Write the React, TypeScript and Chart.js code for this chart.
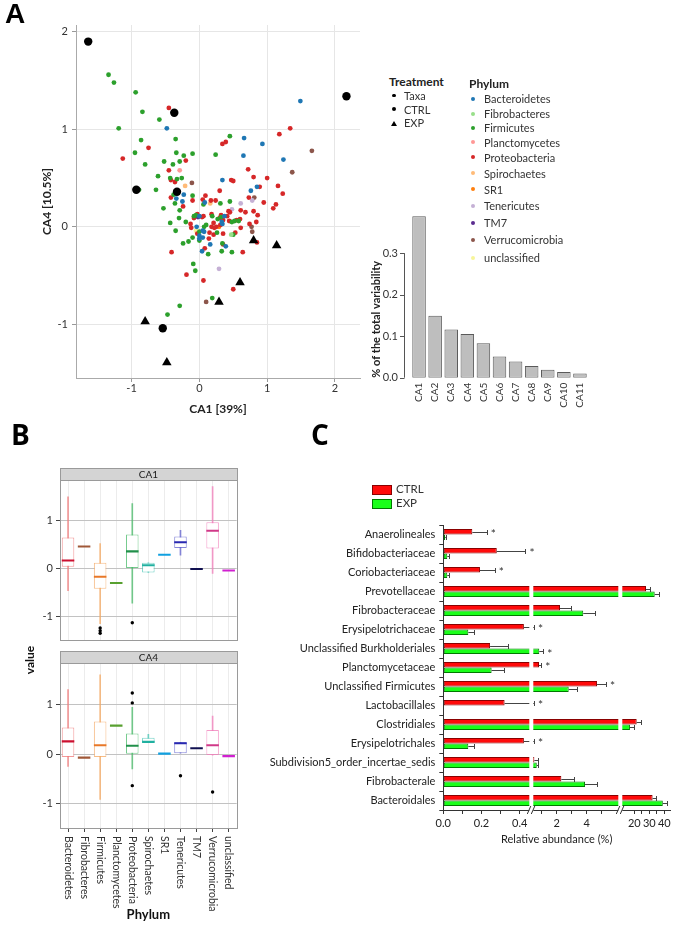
import React, { useEffect, useRef } from "react";
import { Chart, registerables, LinearScale } from "chart.js";

const FONT = "Lato, 'DejaVu Sans', sans-serif";

// ---------------- Panel A : CA biplot ----------------
const phyla = ["Bacteroidetes", "Fibrobacteres", "Firmicutes", "Planctomycetes", "Proteobacteria", "Spirochaetes", "SR1", "Tenericutes", "TM7", "Verrucomicrobia", "unclassified"];
const phylumColors = ["#1f77b4", "#98df8a", "#2ca02c", "#ff9896", "#d62728", "#ffbb78", "#ff7f0e", "#c5b0d5", "#5b2c8f", "#8c564b", "#f7f59a"];

const bacteroidetesPts = [[-0.48, 1.01], [1.49, 1.29], [0.66, 0.91], [0.93, 0.85], [0.65, 0.73], [1.24, 0.69], [0.34, 0.48], [0.85, 0.41], [0.76, 0.37], [-0.23, 0.33], [-0.34, 0.29], [-0.25, 0.26], [0.08, 0.25], [0.0, 0.11], [-0.04, 0.0], [0.05, -0.04], [0.07, -0.05], [0.0, -0.09], [0.05, -0.11], [0.04, -0.25], [0.16, -0.18], [0.34, 0.03], [0.37, 0.11], [0.33, 0.05], [0.0, -0.12], [0.39, -0.2]];
const fibrobacteresPts = [[0.47, -0.08]];
const firmicutesPts = [[-1.34, 1.56], [-1.26, 1.48], [-0.94, 1.38], [-0.84, 1.18], [-0.59, 1.1], [-1.19, 1.01], [0.45, 0.93], [-0.86, 0.89], [-0.35, 0.9], [-0.95, 0.76], [-0.34, 0.76], [-0.1, 0.75], [0.24, 0.74], [-0.23, 0.73], [-0.29, 0.67], [-0.52, 0.67], [-0.8, 0.64], [-0.39, 0.64], [-0.61, 0.52], [-0.43, 0.5], [-0.33, 0.49], [-0.26, 0.5], [-0.89, 0.38], [-0.64, 0.38], [-0.38, 0.33], [-0.1, 0.32], [-0.36, 0.24], [0.31, 0.24], [0.45, 0.26], [-0.53, 0.19], [0.06, 0.23], [-0.29, 0.17], [-0.43, 0.04], [-0.35, -0.04], [-0.3, 0.09], [-0.2, 0.05], [-0.24, -0.17], [-0.16, -0.15], [-0.1, -0.11], [-0.08, 0.11], [-0.05, 0.12], [0.0, -0.05], [0.07, 0.0], [0.1, 0.02], [0.0, -0.14], [0.13, -0.28], [0.19, 0.11], [0.26, -0.06], [0.34, -0.17], [0.33, -0.25], [0.48, 0.05], [0.52, 0.06], [0.5, -0.08], [0.48, -0.26], [-0.09, -0.38], [-0.06, -0.45], [0.19, -0.73], [-0.29, -0.81], [-0.47, -0.9], [0.27, 0.08], [0.32, 0.1], [0.58, 0.06]];
const planctomycetesPts = [[-0.29, 0.58]];
const proteobacteriaPts = [[-0.45, 1.22], [1.34, 1.01], [1.18, 0.95], [0.34, 0.85], [0.39, 0.87], [-0.75, 0.81], [-1.13, 0.7], [-0.2, 0.68], [-0.45, 0.58], [0.72, 0.59], [0.8, 0.51], [1.0, 0.5], [-0.42, 0.48], [-0.36, 0.46], [0.47, 0.48], [0.5, 0.47], [0.89, 0.41], [1.16, 0.42], [0.3, 0.37], [1.23, 0.34], [0.73, 0.3], [0.09, 0.32], [-0.42, 0.3], [-0.1, 0.27], [0.05, 0.28], [0.17, 0.27], [0.24, 0.27], [0.95, 0.25], [1.13, 0.23], [1.09, 0.19], [-0.24, 0.21], [0.43, 0.16], [0.61, 0.17], [0.68, 0.15], [0.8, 0.16], [0.86, 0.12], [-0.03, 0.13], [0.06, 0.11], [-0.13, 0.03], [-0.12, -0.01], [-0.03, -0.07], [0.08, -0.22], [0.15, -0.06], [0.18, 0.0], [0.18, 0.13], [0.21, 0.04], [0.25, 0.0], [0.21, -0.08], [0.3, 0.09], [0.32, 0.12], [0.35, -0.07], [0.35, -0.18], [0.44, 0.06], [0.41, 0.11], [0.53, -0.06], [0.55, 0.07], [0.6, 0.08], [0.61, -0.01], [0.64, -0.26], [0.74, 0.03], [0.84, 0.05], [0.85, -0.16], [-0.41, -0.26], [-0.19, -0.49], [0.06, -0.55], [0.5, -0.64], [-0.08, 0.09], [0.04, 0.1], [0.35, 0.07], [0.14, -0.12], [0.22, -0.01], [0.31, 0.02], [0.45, 0.15]];
const spirochaetesPts = [[-0.21, 0.42], [0.16, 0.24]];
const sr1Pts = [[0.29, 0.0]];
const tenericutesPts = [[0.61, 0.24], [0.78, 0.27], [0.48, 0.18], [0.29, -0.43]];
const tm7Pts = [[-0.02, 0.1]];
const verrucomicrobiaPts = [[1.66, 0.78], [1.37, 0.56], [-0.11, 0.45], [0.81, 0.3], [0.77, 0.0], [0.78, -0.05], [0.1, -0.77]];
const unclassifiedPts = [[-0.05, -0.04]];
const ctrlPts = [[-1.64, 1.9], [-0.37, 1.17], [-0.93, 0.38], [-0.33, 0.36], [-0.54, -1.04], [2.17, 1.34]];
const expPts = [[-0.8, -0.97], [-0.48, -1.39], [0.29, -0.77], [0.6, -0.57], [0.8, -0.14], [1.14, -0.19]];
const phylumPts = [bacteroidetesPts, fibrobacteresPts, firmicutesPts, planctomycetesPts, proteobacteriaPts, spirochaetesPts, sr1Pts, tenericutesPts, tm7Pts, verrucomicrobiaPts, unclassifiedPts];
const biplotTicks = [-1, 0, 1, 2];

// Scree plot
const screeLabels = ["CA1", "CA2", "CA3", "CA4", "CA5", "CA6", "CA7", "CA8", "CA9", "CA10", "CA11"];
const screeValues = [0.389, 0.149, 0.116, 0.105, 0.083, 0.051, 0.039, 0.028, 0.019, 0.014, 0.01];
const screeTicks = [0, 0.1, 0.2, 0.3];

// ---------------- Panel B : boxplots ----------------
const ca1Low = [-0.46, 0.46, -1.15, -0.3, -0.72, -0.08, 0.29, 0.28, -0.01, -0.1, -0.04];
const ca1Q1 = [0.04, 0.46, -0.42, -0.3, 0.0, -0.08, 0.29, 0.43, -0.01, 0.42, -0.04];
const ca1Median = [0.17, 0.46, -0.17, -0.3, 0.36, 0.07, 0.29, 0.55, -0.01, 0.79, -0.04];
const ca1Q3 = [0.65, 0.46, 0.12, -0.3, 0.71, 0.12, 0.29, 0.67, -0.01, 0.97, -0.04];
const ca1High = [1.5, 0.46, 0.52, -0.3, 1.36, 0.12, 0.29, 0.8, -0.01, 1.71, -0.04];
const ca1Outliers = [[2, -1.24], [2, -1.3], [2, -1.35], [4, -1.13]];
const ca4Low = [-0.25, -0.07, -0.92, 0.58, -0.3, 0.23, 0.01, 0.02, 0.12, -0.02, -0.04];
const ca4Q1 = [-0.06, -0.07, -0.06, 0.58, 0.01, 0.23, 0.01, 0.02, 0.12, -0.02, -0.04];
const ca4Median = [0.26, -0.07, 0.18, 0.58, 0.17, 0.25, 0.01, 0.22, 0.12, 0.18, -0.04];
const ca4Q3 = [0.54, -0.07, 0.66, 0.58, 0.42, 0.33, 0.01, 0.24, 0.12, 0.49, -0.04];
const ca4High = [1.31, -0.07, 1.61, 0.58, 0.95, 0.4, 0.01, 0.24, 0.12, 0.77, -0.04];
const ca4Outliers = [[4, 1.24], [4, 1.04], [4, -0.64], [7, -0.44], [9, -0.77]];
const boxTicks = [-1, 0, 1];
const boxColors = ["#f07878", "#b07858", "#f5a860", "#78b848", "#48b868", "#48c4b4", "#30b0e0", "#6060cc", "#303070", "#f07cb8", "#e050e0"];
const medianColors = ["#cc1030", "#a05838", "#e87828", "#58a030", "#20904a", "#20b0a0", "#10a0e0", "#2828b0", "#101050", "#d03888", "#d020d0"];

// ---------------- Panel C : relative abundance ----------------
const cTaxa = ["Anaerolineales", "Bifidobacteriaceae", "Coriobacteriaceae", "Prevotellaceae", "Fibrobacteraceae", "Erysipelotrichaceae", "Unclassified Burkholderiales", "Planctomycetaceae", "Unclassified Firmicutes", "Lactobacillales", "Clostridiales", "Erysipelotrichales", "Subdivision5_order_incertae_sedis", "Fibrobacterale", "Bacteroidales"];
const ctrlMeans = [0.152, 0.28, 0.192, 27.8, 2.22, 0.422, 0.245, 0.82, 4.69, 0.321, 21.6, 0.422, 0.51, 2.31, 32.2];
const ctrlUpper = [0.227, 0.43, 0.269, 30.5, 2.95, 0.49, 0.34, 0.97, 5.29, 0.49, 24.5, 0.48, 0.77, 3.17, 34.5];
const expMeans = [0.01, 0.021, 0.021, 33.6, 3.77, 0.131, 0.84, 0.253, 2.8, 0, 17.1, 0.131, 0.67, 3.89, 39.0];
const expUpper = [0.012, 0.03, 0.03, 36.7, 4.57, 0.16, 1.1, 0.319, 3.37, 0, 19.8, 0.16, 0.75, 4.7, 42.0];
const cSignificant = [true, true, true, false, false, true, true, true, true, true, false, true, false, false, false];
const cTickValues = [0, 0.1, 0.2, 0.3, 0.4, 1, 2, 3, 4, 5, 20, 25, 30, 35, 40];
const cTickLabels = ["0.0", "", "0.2", "", "0.4", "", "2", "", "4", "", "20", "", "30", "", "40"];

// broken axis: three linear segments separated by gaps (display units = px at design width)
const DISP_MAX = 226.7;
const GAPS = [[86, 90], [175, 179]];
function toDisp(v: number) {
  if (v <= 0.45) return 191 * v;
  if (v <= 6.1) return Math.max(90, 83.4 + 15 * v);
  return Math.max(179, 161 + 1.5 * v);
}

class BrokenAxisScale extends LinearScale {
  static id = "brokenAxis";
  static defaults = LinearScale.defaults;
  buildTicks() {
    return cTickValues.map((v) => ({ value: v }));
  }
  getPixelForValue(value: number) {
    return this.left + (toDisp(value) * this.width) / DISP_MAX;
  }
  getValueForPixel(pixel: number) {
    const d = ((pixel - this.left) * DISP_MAX) / this.width;
    if (d <= 86) return d / 191;
    if (d <= 175) return (d - 83.4) / 15;
    return (d - 161) / 1.5;
  }
}

Chart.register(...registerables, BrokenAxisScale);

function ChartCanvas({ left, top, width, height, make }: any) {
  const ref = useRef<HTMLCanvasElement>(null);
  useEffect(() => {
    const chart = new Chart(ref.current as HTMLCanvasElement, make());
    return () => chart.destroy();
  }, []);
  return <canvas ref={ref} width={width} height={height} style={{ position: "absolute", left, top, width, height }} />;
}

const font = (size: number, bold = false) => ({ family: FONT, size, weight: bold ? "bold" : "normal" });

function makeBiplot(): any {
  const toXY = (arr: number[][]) => arr.map(([x, y]) => ({ x, y }));
  return {
    type: "scatter",
    data: {
      datasets: [
        { label: "CTRL", data: toXY(ctrlPts), backgroundColor: "#000", borderWidth: 0, pointRadius: 4.2 },
        { label: "EXP", data: toXY(expPts), backgroundColor: "#000", borderWidth: 0, pointRadius: 5.5, pointStyle: "triangle" },
        ...phyla.map((p, i) => ({ label: p, data: toXY(phylumPts[i]), backgroundColor: phylumColors[i], borderWidth: 0, pointRadius: 2.4 })),
      ],
    },
    options: {
      animation: false,
      responsive: false,
      layout: { padding: { left: 36, top: 25, right: 10, bottom: 0 } },
      plugins: { legend: { display: false }, tooltip: { enabled: false } },
      scales: {
        x: {
          type: "linear", min: -1.82, max: 2.37,
          afterBuildTicks: (s: any) => { s.ticks = biplotTicks.map((v) => ({ value: v })); },
          afterFit: (s: any) => { s.height = 42; },
          grid: { color: "#e6e6e6", tickLength: 4, tickColor: "#999" },
          border: { color: "#aaa" },
          ticks: { color: "#333", font: font(11), padding: 0 },
          title: { display: true, text: "CA1 [39%]", color: "#222", font: font(12, true) },
        },
        y: {
          type: "linear", min: -1.55, max: 2.07,
          afterBuildTicks: (s: any) => { s.ticks = biplotTicks.map((v) => ({ value: v })); },
          afterFit: (s: any) => { s.width = 40; },
          grid: { color: "#e6e6e6", tickLength: 4, tickColor: "#999" },
          border: { color: "#aaa" },
          ticks: { color: "#333", font: font(11), padding: 4 },
          title: { display: true, text: "CA4 [10.5%]", color: "#222", font: font(12, true) },
        },
      },
    },
  };
}

const screeAxisPlugin = {
  id: "screeAxis",
  afterDraw(chart: any) {
    const { ctx, chartArea } = chart;
    const y = chart.scales.y;
    const x0 = chartArea.left - 7;
    ctx.save();
    ctx.strokeStyle = "#555";
    ctx.lineWidth = 1;
    ctx.beginPath();
    ctx.moveTo(x0 + 0.5, y.getPixelForValue(0));
    ctx.lineTo(x0 + 0.5, y.getPixelForValue(0.3));
    screeTicks.forEach((t) => {
      const py = Math.round(y.getPixelForValue(t)) + 0.5;
      ctx.moveTo(x0 + 0.5, py);
      ctx.lineTo(x0 - 4, py);
    });
    ctx.stroke();
    ctx.restore();
  },
};

function makeScree(): any {
  return {
    type: "bar",
    data: {
      labels: screeLabels,
      datasets: [{ data: screeValues, backgroundColor: "#bebebe", borderColor: "#5a5a5a", borderWidth: 1, borderSkipped: false, categoryPercentage: 0.84, barPercentage: 1 }],
    },
    options: {
      animation: false,
      responsive: false,
      layout: { padding: { left: 26, top: 19, right: 12, bottom: 0 } },
      plugins: { legend: { display: false }, tooltip: { enabled: false } },
      scales: {
        x: {
          type: "category",
          grid: { display: false, drawTicks: false },
          border: { display: false },
          ticks: { autoSkip: false, minRotation: 90, maxRotation: 90, padding: 5, color: "#333", font: font(10) },
          afterFit: (s: any) => { s.height = 52.3; },
        },
        y: {
          type: "linear", min: 0, max: 0.405,
          grid: { display: false, drawTicks: false },
          border: { display: false },
          afterBuildTicks: (s: any) => { s.ticks = screeTicks.map((v) => ({ value: v })); },
          ticks: { callback: (v: any) => Number(v).toFixed(1), padding: 13, color: "#333", font: font(11) },
          afterFit: (s: any) => { s.width = 45; },
          title: { display: true, text: "% of the total variability", align: "start", color: "#222", font: font(11, true) },
        },
      },
    },
    plugins: [screeAxisPlugin],
  };
}

function facetPlugin(facet: string, bottom: boolean) {
  return {
    id: "facet" + facet,
    afterDraw(chart: any) {
      const { ctx, chartArea } = chart;
      const { left, right, top, bottom: b } = chartArea;
      ctx.save();
      ctx.lineWidth = 1;
      ctx.strokeStyle = "#9a9a9a";
      ctx.strokeRect(Math.round(left) + 0.5, Math.round(top) + 0.5, Math.round(right - left), Math.round(b - top));
      ctx.fillStyle = "#d4d4d4";
      ctx.fillRect(Math.round(left) + 0.5, Math.round(top) - 11.5, Math.round(right - left), 12);
      ctx.strokeRect(Math.round(left) + 0.5, Math.round(top) - 11.5, Math.round(right - left), 12);
      ctx.fillStyle = "#1a1a1a";
      ctx.font = `10px ${FONT}`;
      ctx.textAlign = "center";
      ctx.textBaseline = "middle";
      ctx.fillText(facet, (left + right) / 2, top - 5.5);
      if (bottom) {
        const xs = chart.scales.x;
        ctx.fillStyle = "#333";
        ctx.font = `10.5px ${FONT}`;
        ctx.textAlign = "left";
        phyla.forEach((p, i) => {
          ctx.save();
          ctx.translate(xs.getPixelForValue(i), b + 8);
          ctx.rotate(Math.PI / 2);
          ctx.fillText(p, 0, 0);
          ctx.restore();
        });
      }
      ctx.restore();
    },
  };
}

function makeBox(facet: string, low: number[], q1: number[], med: number[], q3: number[], high: number[], outl: number[][], bottom: boolean): any {
  const stroke = boxColors.map((c) => c + "c0");
  return {
    type: "bar",
    data: {
      labels: phyla,
      datasets: [
        { type: "scatter", label: "outliers", data: outl.map(([i, v]) => ({ x: phyla[i], y: v })), backgroundColor: "#000", borderWidth: 0, pointRadius: 1.7 },
        { type: "bar", label: "median", data: med.map((m) => [m - 0.022, m + 0.022]), backgroundColor: medianColors, borderWidth: 0, grouped: false, categoryPercentage: 0.78, barPercentage: 1 },
        { type: "bar", label: "box", data: q1.map((v, i) => [v, q3[i]]), backgroundColor: "#ffffff", borderColor: stroke, borderWidth: 1, borderSkipped: false, grouped: false, categoryPercentage: 0.78, barPercentage: 1 },
        { type: "bar", label: "whisker", data: low.map((v, i) => [v, high[i]]), backgroundColor: stroke, borderWidth: 0, grouped: false, barThickness: 1 },
      ],
    },
    options: {
      animation: false,
      responsive: false,
      layout: { padding: { left: 0, top: bottom ? 14 : 18, right: 8.3, bottom: bottom ? 0 : 4 } },
      plugins: { legend: { display: false }, tooltip: { enabled: false } },
      scales: {
        x: {
          type: "category",
          offset: true,
          grid: { offset: false, color: "#ececec", drawTicks: bottom, tickLength: 4, tickColor: "#444" },
          border: { display: false },
          ticks: { display: false },
          afterFit: (s: any) => { s.height = bottom ? 98 : 0; },
          title: { display: bottom, text: "Phylum", color: "#111", font: font(13, true), padding: { top: 0, bottom: 3 } },
        },
        y: {
          type: "linear", min: -1.5, max: 1.85,
          afterBuildTicks: (s: any) => { s.ticks = boxTicks.map((v) => ({ value: v })); },
          afterFit: (s: any) => { s.width = 60; },
          grid: { color: "#c2c2c2", tickLength: 4, tickColor: "#444" },
          border: { display: false },
          ticks: { color: "#333", font: font(11), padding: 3 },
        },
      },
    },
    plugins: [facetPlugin(facet, bottom)],
  };
}

const abundancePlugin = {
  id: "abundanceExtras",
  afterDatasetsDraw(chart: any) {
    const { ctx } = chart;
    const xs = chart.scales.x;
    const metas = [chart.getDatasetMeta(0), chart.getDatasetMeta(1)];
    const means = [ctrlMeans, expMeans];
    const uppers = [ctrlUpper, expUpper];
    ctx.save();
    ctx.strokeStyle = "#444";
    ctx.lineWidth = 1;
    metas.forEach((m, d) => {
      m.data.forEach((bar: any, i: number) => {
        if (uppers[d][i] <= means[d][i]) return;
        const x0 = xs.getPixelForValue(means[d][i]);
        const x1 = Math.round(xs.getPixelForValue(uppers[d][i])) + 0.5;
        const y = Math.round(bar.y) + 0.5;
        ctx.beginPath();
        ctx.moveTo(x0, y);
        ctx.lineTo(x1, y);
        ctx.moveTo(x1, y - 2.5);
        ctx.lineTo(x1, y + 2.5);
        ctx.stroke();
      });
    });
    ctx.restore();
  },
  afterDraw(chart: any) {
    const { ctx, chartArea } = chart;
    const xs = chart.scales.x;
    const k = (chartArea.right - chartArea.left) / DISP_MAX;
    ctx.save();
    GAPS.forEach(([g0, g1]) => {
      const p0 = chartArea.left + g0 * k;
      const p1 = chartArea.left + g1 * k;
      ctx.fillStyle = "#fff";
      ctx.fillRect(p0, chartArea.top, p1 - p0, chartArea.bottom - chartArea.top + 1.5);
      ctx.strokeStyle = "#333";
      ctx.lineWidth = 1;
      ctx.beginPath();
      [p0, p1].forEach((p) => {
        ctx.moveTo(p - 2, chartArea.bottom + 4);
        ctx.lineTo(p + 1.5, chartArea.bottom - 4);
      });
      ctx.stroke();
    });
    const metas = [chart.getDatasetMeta(0), chart.getDatasetMeta(1)];
    ctx.fillStyle = "#333";
    ctx.font = `12px ${FONT}`;
    ctx.textAlign = "left";
    ctx.textBaseline = "middle";
    cSignificant.forEach((s, i) => {
      if (!s) return;
      const useExp = expUpper[i] > ctrlUpper[i];
      const up = useExp ? expUpper[i] : ctrlUpper[i];
      const bar = metas[useExp ? 1 : 0].data[i];
      ctx.fillText("*", xs.getPixelForValue(up) + 4, bar.y + 2.5);
    });
    ctx.restore();
  },
};

function makeAbundance(): any {
  return {
    type: "bar",
    data: {
      labels: cTaxa,
      datasets: [
        { label: "CTRL", data: ctrlMeans, backgroundColor: "#ff0a0a", borderColor: "#8a0000", borderWidth: 1, borderSkipped: false, categoryPercentage: 0.6, barPercentage: 0.96 },
        { label: "EXP", data: expMeans, backgroundColor: "#1aff1a", borderColor: "#007a00", borderWidth: 1, borderSkipped: false, categoryPercentage: 0.6, barPercentage: 0.96 },
      ],
    },
    options: {
      indexAxis: "y",
      animation: false,
      responsive: false,
      layout: { padding: { left: 0, top: 55, right: 10, bottom: 0 } },
      plugins: { legend: { display: false }, tooltip: { enabled: false } },
      scales: {
        x: {
          type: "brokenAxis", min: 0, max: 45,
          grid: { drawOnChartArea: false, tickLength: 4, tickColor: "#333" },
          border: { color: "#333" },
          ticks: { autoSkip: false, maxRotation: 0, callback: (_v: any, i: number) => cTickLabels[i], color: "#222", font: font(11), padding: 3 },
          afterFit: (s: any) => { s.height = 40; },
          title: { display: true, text: "Relative abundance (%)", color: "#222", font: font(11), padding: { top: 0, bottom: 4 } },
        },
        y: {
          type: "category",
          grid: { offset: true, drawOnChartArea: false, tickLength: 4, tickColor: "#333" },
          border: { color: "#333" },
          ticks: { autoSkip: false, color: "#222", font: font(11), padding: 4 },
          afterFit: (s: any) => { s.width = 183.3; },
        },
      },
    },
    plugins: [abundancePlugin],
  };
}

function Txt({ x, cy, size = 11, bold = false, color = "#333", children }: any) {
  return (
    <div style={{ position: "absolute", left: x, top: cy - size * 0.7, fontSize: size, lineHeight: `${size * 1.4}px`, fontWeight: bold ? 700 : 400, color, whiteSpace: "nowrap" }}>
      {children}
    </div>
  );
}

function Dot({ x, y, r, color }: any) {
  return <div style={{ position: "absolute", left: x - r, top: y - r, width: 2 * r, height: 2 * r, borderRadius: "50%", background: color }} />;
}

const phylumLegendY = [99, 113.7, 127.7, 142.3, 157.3, 173.3, 189.3, 205.7, 222.5, 239.5, 257.5];

export default function App() {
  return (
    <div style={{ position: "absolute", left: 0, top: 0, width: 680, height: 926, background: "#fff", fontFamily: FONT, overflow: "hidden" }}>
      <ChartCanvas left={0} top={0} width={370} height={420} make={makeBiplot} />
      <ChartCanvas left={340} top={190} width={260} height={240} make={makeScree} />
      <ChartCanvas left={0} top={462} width={245} height={188} make={() => makeBox("CA1", ca1Low, ca1Q1, ca1Median, ca1Q3, ca1High, ca1Outliers, false)} />
      <ChartCanvas left={0} top={649} width={245} height={277} make={() => makeBox("CA4", ca4Low, ca4Q1, ca4Median, ca4Q3, ca4High, ca4Outliers, true)} />
      <ChartCanvas left={260} top={470} width={420} height={380} make={makeAbundance} />

      <div style={{ position: "absolute", left: 5, top: 0, fontFamily: "'Liberation Sans', Arial, sans-serif", fontWeight: 700, fontSize: 28, lineHeight: "28px" }}>A</div>
      <div style={{ position: "absolute", left: 11, top: 420, fontFamily: "'Open Sans', sans-serif", fontWeight: 700, fontSize: 28, lineHeight: "28px" }}>B</div>
      <div style={{ position: "absolute", left: 311, top: 420, fontFamily: "'Open Sans', sans-serif", fontWeight: 700, fontSize: 28, lineHeight: "28px" }}>C</div>

      <Txt x={389} cy={82.7} size={12} bold color="#222">Treatment</Txt>
      <Dot x={394} y={95.7} r={1.8} color="#000" />
      <Txt x={404} cy={95.7}>Taxa</Txt>
      <Dot x={394} y={109.3} r={2} color="#000" />
      <Txt x={404} cy={109.3}>CTRL</Txt>
      <div style={{ position: "absolute", left: 391, top: 120.5, width: 0, height: 0, borderLeft: "3px solid transparent", borderRight: "3px solid transparent", borderBottom: "5px solid #000" }} />
      <Txt x={404} cy={122.7}>EXP</Txt>

      <Txt x={469} cy={84} size={12} bold color="#222">Phylum</Txt>
      {phyla.map((p, i) => (
        <React.Fragment key={p}>
          <Dot x={472.7} y={phylumLegendY[i]} r={2} color={phylumColors[i]} />
          <Txt x={484} cy={phylumLegendY[i]}>{p}</Txt>
        </React.Fragment>
      ))}

      <div style={{ position: "absolute", left: 10, top: 652, width: 40, textAlign: "center", transform: "rotate(-90deg)", fontWeight: 700, fontSize: 12, lineHeight: "16px", color: "#111" }}>value</div>

      <div style={{ position: "absolute", left: 372, top: 484.5, width: 18, height: 8, background: "#ff0a0a", border: "1px solid #8a0000" }} />
      <Txt x={396} cy={489.3} size={11.5}>CTRL</Txt>
      <div style={{ position: "absolute", left: 372, top: 498.5, width: 18, height: 8, background: "#1aff1a", border: "1px solid #007a00" }} />
      <Txt x={396} cy={503.3} size={11.5}>EXP</Txt>
    </div>
  );
}
